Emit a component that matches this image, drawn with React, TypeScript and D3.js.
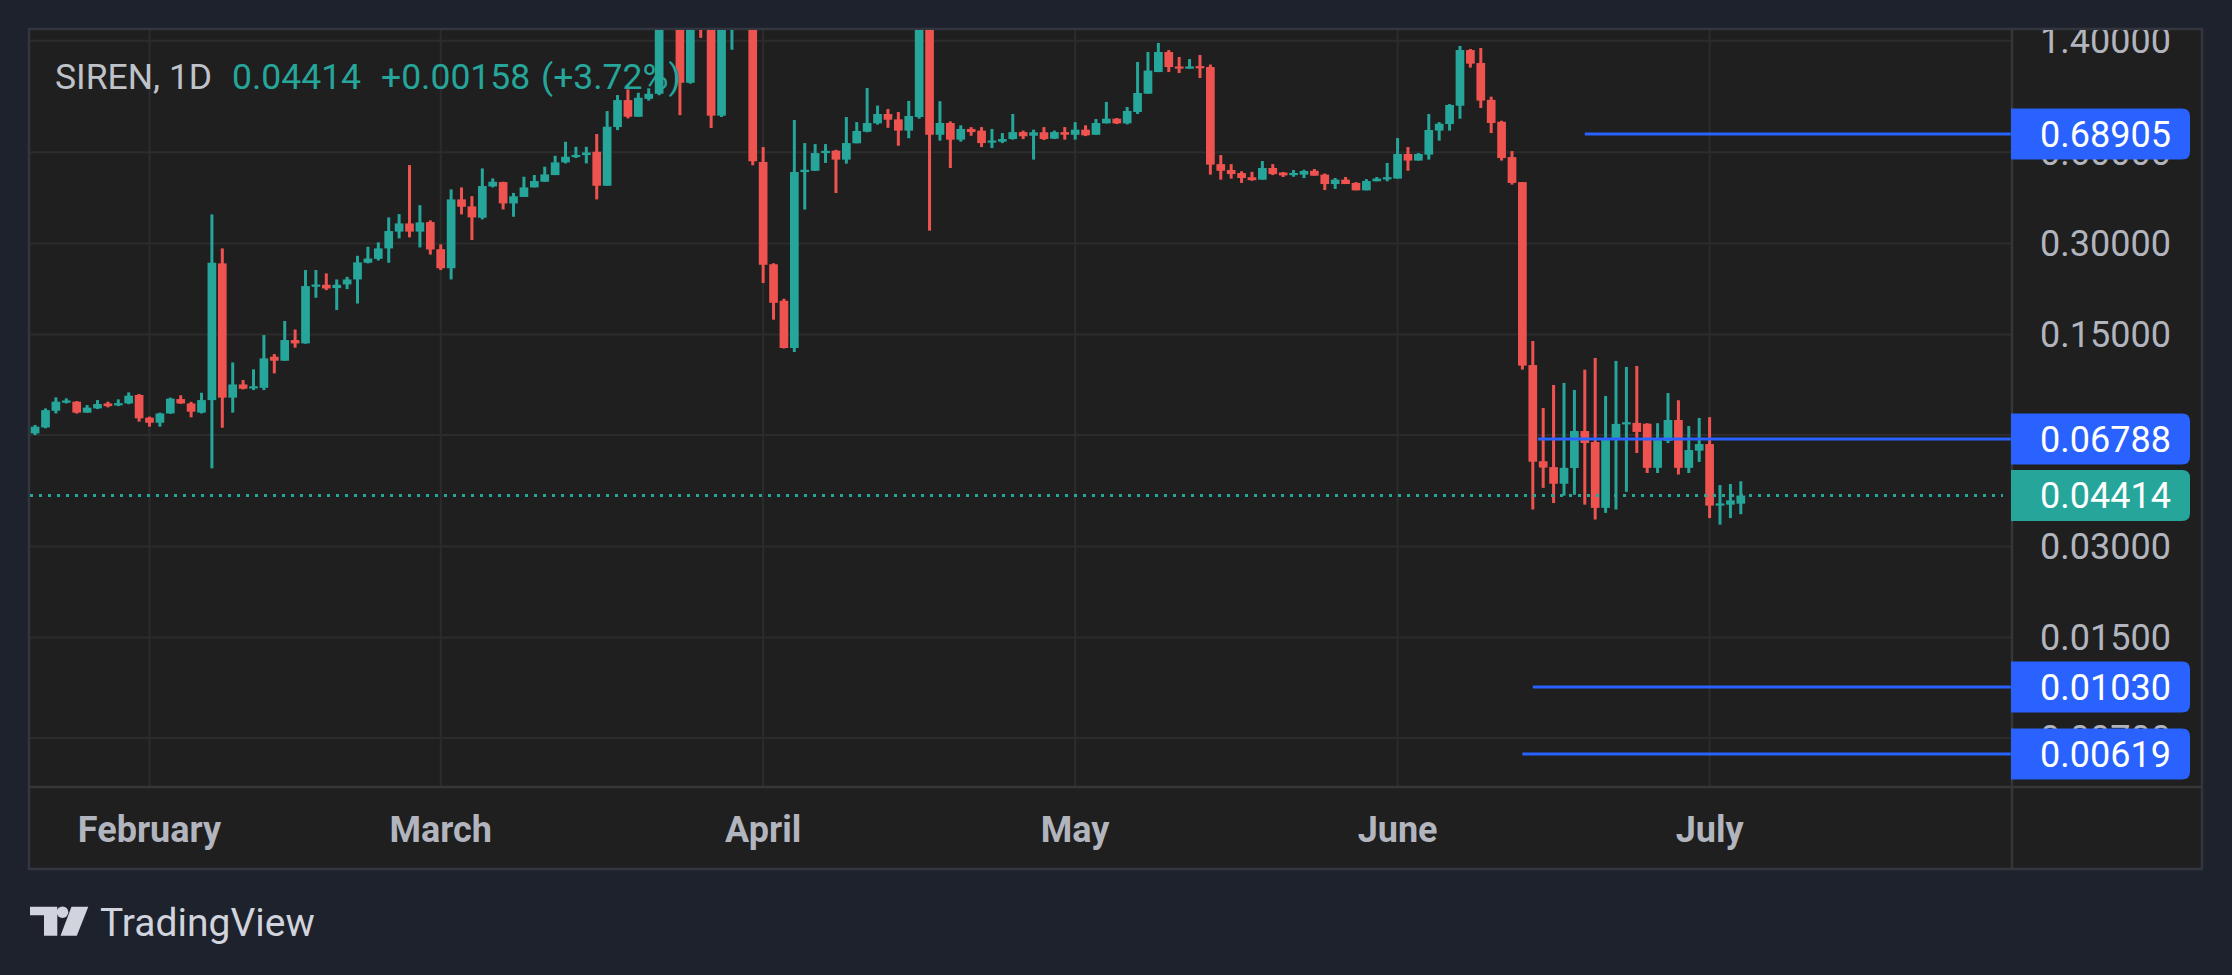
import React from 'react';
import * as d3 from 'd3';

// ---------- data (daily candles, SIREN 1D) ----------
const startDate = '2025-01-21';

const opens = [
  0.0708, 0.0741, 0.0841, 0.0894, 0.0901, 0.0829, 0.0856, 0.0889, 0.0876, 0.0889, 0.0948,
  0.0798, 0.0768, 0.0824, 0.0919, 0.0889, 0.0829, 0.0912, 0.2577, 0.0929, 0.1027,
  0.0996, 0.1001, 0.1268, 0.1230, 0.1439, 0.1403, 0.2158, 0.2191, 0.2136, 0.2197,
  0.2281, 0.2590, 0.2668, 0.2888, 0.3281, 0.3492, 0.3281, 0.3528, 0.2871, 0.2484,
  0.4191, 0.3974, 0.3646, 0.4626, 0.4781, 0.4065, 0.4270, 0.4591, 0.4793, 0.5042,
  0.5552, 0.5780, 0.5869, 0.6019, 0.4650, 0.7262, 0.8915, 0.7854, 0.900, 0.935,
  1.75, 1.90, 1.017, 1.85, 1.62, 0.792, 1.70, 1.90, 1.75, 0.557,
  0.256, 0.194, 0.1355, 0.516, 0.521, 0.596, 0.607, 0.567, 0.642, 0.701,
  0.747, 0.802, 0.770, 0.707, 0.784, 1.80, 0.685, 0.749, 0.660, 0.716,
  0.707, 0.645, 0.650, 0.663, 0.699, 0.680, 0.698, 0.665, 0.699, 0.685,
  0.712, 0.685, 0.747, 0.774, 0.747, 0.814, 0.936, 1.103, 1.285, 1.149,
  1.132, 1.146, 1.146, 0.548, 0.524, 0.512, 0.496, 0.487, 0.532, 0.514,
  0.504, 0.506, 0.521, 0.506, 0.471, 0.487, 0.475, 0.449, 0.481, 0.488,
  0.491, 0.592, 0.563, 0.589, 0.707, 0.743, 0.854, 1.304, 1.182, 0.893,
  0.756, 0.578, 0.478, 0.1190, 0.0573, 0.0548, 0.0483, 0.0544, 0.0721, 0.0663,
  0.0402, 0.0680, 0.0758, 0.0767, 0.0762, 0.0545, 0.0669, 0.0784, 0.0545, 0.0621,
  0.0653, 0.0409, 0.0412, 0.0415,
];

const highs = [
  0.0755, 0.0856, 0.0931, 0.0924, 0.0905, 0.0878, 0.0912, 0.0901, 0.0917, 0.0967, 0.0955,
  0.0804, 0.0829, 0.0929, 0.0946, 0.0900, 0.0964, 0.3740, 0.2888, 0.1214, 0.1062,
  0.1152, 0.1495, 0.1294, 0.1663, 0.1559, 0.2450, 0.2450, 0.2388, 0.2281, 0.2327,
  0.2730, 0.2925, 0.3023, 0.3655, 0.3748, 0.5440, 0.4011, 0.3573, 0.2978, 0.4522,
  0.4591, 0.4296, 0.5304, 0.4916, 0.4793, 0.4403, 0.4979, 0.5043, 0.5372, 0.5838,
  0.6496, 0.6250, 0.6250, 0.6886, 0.8200, 0.9261, 0.9668, 0.9424, 0.975, 1.85,
  2.10, 2.00, 1.95, 2.05, 1.70, 1.85, 2.00, 2.05, 1.80, 0.624,
  0.258, 0.197, 0.766, 0.643, 0.638, 0.638, 0.611, 0.784, 0.754, 0.977,
  0.855, 0.833, 0.814, 0.886, 1.95, 1.90, 0.884, 0.758, 0.736, 0.726,
  0.726, 0.716, 0.694, 0.802, 0.707, 0.712, 0.726, 0.707, 0.726, 0.754,
  0.736, 0.772, 0.879, 0.778, 0.846, 1.191, 1.285, 1.376, 1.304, 1.237,
  1.218, 1.256, 1.168, 0.587, 0.548, 0.519, 0.517, 0.561, 0.548, 0.516,
  0.524, 0.525, 0.528, 0.510, 0.493, 0.497, 0.478, 0.489, 0.497, 0.553,
  0.668, 0.624, 0.596, 0.802, 0.754, 0.865, 1.345, 1.315, 1.324, 0.915,
  0.762, 0.605, 0.478, 0.1429, 0.0859, 0.1023, 0.1039, 0.0985, 0.1149, 0.1256,
  0.0941, 0.1228, 0.1173, 0.1182, 0.0765, 0.0765, 0.0962, 0.0911, 0.0749, 0.0796,
  0.0801, 0.0478, 0.0482, 0.0492,
];

const lows = [
  0.0699, 0.0736, 0.0824, 0.0889, 0.0823, 0.0828, 0.0852, 0.0863, 0.0871, 0.0884, 0.0774,
  0.0745, 0.0745, 0.0822, 0.0886, 0.0800, 0.0824, 0.0543, 0.0739, 0.0829, 0.0989,
  0.0984, 0.0984, 0.1117, 0.1230, 0.1358, 0.1400, 0.1985, 0.2103, 0.1808, 0.2119,
  0.1899, 0.2577, 0.2634, 0.2590, 0.3115, 0.3140, 0.2910, 0.2755, 0.2450, 0.2281,
  0.3740, 0.3077, 0.3600, 0.4591, 0.3883, 0.3674, 0.4270, 0.4591, 0.4793, 0.5042,
  0.5510, 0.5737, 0.5510, 0.4191, 0.4650, 0.7097, 0.7755, 0.7854, 0.888, 0.925,
  1.60, 0.795, 1.01, 1.43, 0.721, 0.784, 1.307, 1.60, 0.543, 0.222,
  0.168, 0.135, 0.1314, 0.388, 0.521, 0.553, 0.440, 0.550, 0.642, 0.698,
  0.740, 0.722, 0.630, 0.667, 0.774, 0.3305, 0.655, 0.532, 0.650, 0.680,
  0.624, 0.619, 0.643, 0.660, 0.663, 0.567, 0.658, 0.663, 0.660, 0.660,
  0.678, 0.685, 0.747, 0.743, 0.741, 0.802, 0.936, 1.103, 1.103, 1.095,
  1.132, 1.054, 0.506, 0.487, 0.491, 0.475, 0.483, 0.487, 0.504, 0.497,
  0.498, 0.493, 0.502, 0.450, 0.454, 0.471, 0.449, 0.449, 0.481, 0.481,
  0.491, 0.521, 0.563, 0.567, 0.655, 0.707, 0.774, 1.141, 0.839, 0.694,
  0.563, 0.469, 0.115, 0.0397, 0.0468, 0.0417, 0.0441, 0.0444, 0.0412, 0.0368,
  0.0387, 0.0397, 0.0454, 0.0610, 0.0524, 0.0524, 0.0658, 0.0518, 0.0524, 0.0570,
  0.0372, 0.0354, 0.0372, 0.0383,
];

const closes = [
  0.0745, 0.0845, 0.0901, 0.0905, 0.0829, 0.0861, 0.0885, 0.0871, 0.0889, 0.0943, 0.0794,
  0.0768, 0.0824, 0.0922, 0.0889, 0.0835, 0.0912, 0.2590, 0.0929, 0.1027, 0.0994,
  0.1009, 0.1252, 0.1230, 0.1439, 0.1403, 0.2169, 0.2185, 0.2130, 0.2191, 0.2281,
  0.2597, 0.2675, 0.2888, 0.3295, 0.3492, 0.3281, 0.3519, 0.2864, 0.2484, 0.4191,
  0.3964, 0.3655, 0.4638, 0.4793, 0.4065, 0.4292, 0.4591, 0.4818, 0.5067, 0.5552,
  0.5795, 0.5869, 0.5989, 0.4650, 0.7280, 0.8915, 0.7854, 0.9074, 0.935, 1.75,
  1.90, 1.017, 1.85, 1.62, 0.792, 1.70, 1.90, 1.75, 0.560, 0.255,
  0.191, 0.1355, 0.516, 0.525, 0.596, 0.605, 0.567, 0.643, 0.705, 0.749,
  0.802, 0.768, 0.707, 0.790, 1.80, 0.685, 0.749, 0.660, 0.716, 0.699,
  0.643, 0.653, 0.663, 0.699, 0.677, 0.698, 0.663, 0.699, 0.685, 0.712,
  0.682, 0.749, 0.774, 0.747, 0.821, 0.941, 1.115, 1.285, 1.146, 1.132,
  1.149, 1.135, 0.546, 0.521, 0.508, 0.493, 0.485, 0.532, 0.508, 0.503,
  0.511, 0.520, 0.502, 0.471, 0.487, 0.471, 0.449, 0.482, 0.491, 0.495,
  0.592, 0.563, 0.592, 0.710, 0.745, 0.859, 1.304, 1.176, 0.888, 0.749,
  0.574, 0.475, 0.1185, 0.0571, 0.0546, 0.0483, 0.0545, 0.0721, 0.0658, 0.0402,
  0.0682, 0.0761, 0.0767, 0.0716, 0.0545, 0.0673, 0.0784, 0.0545, 0.0624, 0.0653,
  0.0409, 0.0414, 0.04256, 0.04414,
];

const priceTicks = [1.4, 0.6, 0.3, 0.15, 0.07, 0.03, 0.015, 0.007];
const monthTicks = ['2025-02-01', '2025-03-01', '2025-04-01', '2025-05-01', '2025-06-01', '2025-07-01'];
const monthLabels = ['February', 'March', 'April', 'May', 'June', 'July'];

const levelValues = [0.68905, 0.06788, 0.0103, 0.00619];
const levelStarts = ['2025-06-19T00:00:00Z', '2025-06-14T12:00:00Z', '2025-06-14T00:00:00Z', '2025-06-13T00:00:00Z'];

const symbolLabel = 'SIREN, 1D';
const lastPrice = 0.04414;
const changeText = '+0.00158';
const changePctText = '(+3.72%)';

// ---------- style ----------
const W = 2232;
const H = 975;
const C = {
  page: '#1e222d',
  pane: '#1f1f1f',
  border: '#33363e',
  grid: '#2c2c2c',
  sep: '#363636',
  text: '#b2b5be',
  up: '#26a69a',
  down: '#ef5350',
  level: '#2962ff',
  logo: '#d1d4dc',
};
const FONT = 'Roboto, "Noto Sans", sans-serif';

const plot = { left: 30, top: 30, right: 2011, bottom: 786 };
const frame = { left: 29, top: 29, right: 2202, bottom: 869 };

function boxPath(x0: number, y0: number, w: number, h: number, r: number) {
  return `M${x0},${y0} H${x0 + w - r} Q${x0 + w},${y0} ${x0 + w},${y0 + r} V${y0 + h - r} Q${x0 + w},${y0 + h} ${x0 + w - r},${y0 + h} H${x0} Z`;
}

export default function App() {
  const parse = (s: string) => new Date(s.length <= 10 ? s + 'T00:00:00Z' : s);
  const x = d3
    .scaleUtc()
    .domain([parse('2025-02-01'), parse('2025-07-01')])
    .range([149.5, 1709.6]);
  const y = d3.scaleLog().domain([0.3, 0.015]).range([243.4, 637.6]);

  const start = parse(startDate);
  const candles = opens.map((o, i) => ({
    date: d3.utcDay.offset(start, i),
    o,
    h: highs[i],
    l: lows[i],
    c: closes[i],
  }));

  const bodyW = 8.7;
  const wickW = 3;
  const fmt = d3.format('.5f');

  const boxH = 51;
  const boxX = 2011;
  const boxW = 179;
  const labelX = 2040;

  return (
    <svg
      width={W}
      height={H}
      viewBox={`0 0 ${W} ${H}`}
      style={{ position: 'absolute', left: 0, top: 0, display: 'block' }}
      fontFamily={FONT}
    >
      <defs>
        <clipPath id="plotClip">
          <rect x={plot.left} y={plot.top} width={plot.right - plot.left} height={plot.bottom - plot.top} />
        </clipPath>
        <clipPath id="axisClip">
          <rect x={plot.right} y={frame.top + 1} width={frame.right - plot.right} height={plot.bottom - frame.top} />
        </clipPath>
      </defs>
      <rect x={0} y={0} width={W} height={H} fill={C.page} />
      <rect
        x={frame.left}
        y={frame.top}
        width={frame.right - frame.left}
        height={frame.bottom - frame.top}
        fill={C.pane}
        stroke={C.border}
        strokeWidth={2.5}
      />

      {/* grid */}
      <g clipPath="url(#plotClip)">
        {priceTicks.map((t) => (
          <line key={'h' + t} x1={plot.left} x2={plot.right} y1={y(t)} y2={y(t)} stroke={C.grid} strokeWidth={2} />
        ))}
        {monthTicks.map((m) => (
          <line key={'v' + m} x1={x(parse(m))} x2={x(parse(m))} y1={plot.top} y2={plot.bottom} stroke={C.grid} strokeWidth={2} />
        ))}
      </g>

      {/* candles */}
      <g clipPath="url(#plotClip)">
        {candles.map((d, i) => {
          const cx = x(d.date);
          const up = d.c >= d.o;
          const col = up ? C.up : C.down;
          const top = y(Math.max(d.o, d.c));
          const bot = y(Math.min(d.o, d.c));
          const bh = Math.max(2.2, bot - top);
          return (
            <g key={i} fill={col}>
              <rect x={cx - wickW / 2} y={y(d.h)} width={wickW} height={Math.max(0, y(d.l) - y(d.h))} />
              <rect x={cx - bodyW / 2} y={bot - bh} width={bodyW} height={bh} />
            </g>
          );
        })}
      </g>

      {/* level lines */}
      <g clipPath="url(#plotClip)">
        {levelValues.map((v, i) => (
          <line
            key={'lv' + v}
            x1={x(parse(levelStarts[i]))}
            x2={plot.right}
            y1={y(v)}
            y2={y(v)}
            stroke={C.level}
            strokeWidth={3}
          />
        ))}
        <line
          x1={plot.left}
          x2={2003}
          y1={y(lastPrice)}
          y2={y(lastPrice)}
          stroke={C.up}
          strokeWidth={3}
          strokeDasharray="3 6"
        />
      </g>

      {/* legend */}
      <g fontSize={35.5}>
        <text x={55} y={89} fill="#c0c2c9">{symbolLabel}</text>
        <text x={232} y={89} fill={C.up}>{fmt(lastPrice)}</text>
        <text x={381} y={89} fill={C.up}>{changeText}</text>
        <text x={541} y={89} fill={C.up}>{changePctText}</text>
      </g>

      {/* separators */}
      <line x1={plot.right + 1} x2={plot.right + 1} y1={frame.top} y2={frame.bottom} stroke={C.sep} strokeWidth={2.5} />
      <line x1={frame.left} x2={frame.right} y1={plot.bottom + 1} y2={plot.bottom + 1} stroke={C.sep} strokeWidth={2.5} />

      {/* price axis */}
      <g clipPath="url(#axisClip)" fontSize={36}>
        {priceTicks.map((t) => (
          <text key={'pt' + t} x={labelX} y={y(t) + 12.8} fill={C.text}>
            {fmt(t)}
          </text>
        ))}
        {levelValues.map((v) => (
          <g key={'lb' + v}>
            <path d={boxPath(boxX, y(v) - boxH / 2, boxW, boxH, 8)} fill={C.level} />
            <text x={labelX} y={y(v) + 12.8} fill="#ffffff">
              {fmt(v)}
            </text>
          </g>
        ))}
        <path d={boxPath(boxX, y(lastPrice) - boxH / 2, boxW, boxH, 8)} fill={C.up} />
        <text x={labelX} y={y(lastPrice) + 12.8} fill="#ffffff">
          {fmt(lastPrice)}
        </text>
      </g>

      {/* time axis */}
      <g fontSize={36} fontWeight={700} fill={C.text} textAnchor="middle">
        {monthTicks.map((m, i) => (
          <text key={'mt' + m} x={x(parse(m))} y={842}>
            {monthLabels[i]}
          </text>
        ))}
      </g>

      {/* TradingView logo */}
      <g fill={C.logo}>
        <path d="M30,906.7 H57.3 V935.7 H44 V915.2 H30 Z" />
        <circle cx={62.5} cy={912.2} r={5.8} />
        <path d="M71.5,906.7 H88.3 L76.8,935.7 H60.5 Z" />
        <text x={100} y={935.5} fontSize={39}>TradingView</text>
      </g>
    </svg>
  );
}
